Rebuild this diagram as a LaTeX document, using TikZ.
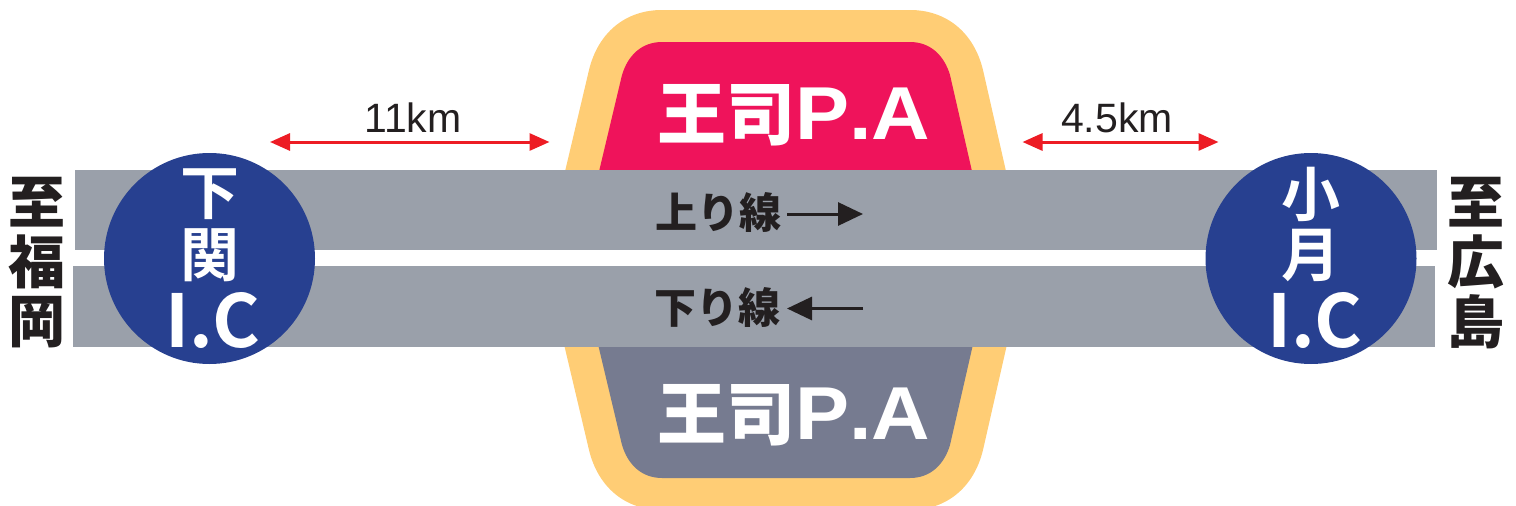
\documentclass[tikz,border=0pt]{standalone}
\usepackage{fontspec}
\setmainfont{Liberation Sans}
\newfontfamily\cjkB{Noto Sans CJK JP Bold}
\newfontfamily\cjkK{Noto Sans CJK JP Black}
\newfontfamily\paLatin[FakeStretch=1.08,Kerning=Off]{Liberation Sans Bold}
\newfontfamily\kmLatin{Liberation Sans}
\usetikzlibrary{arrows.meta}
\definecolor{halo}{HTML}{FFCD75}
\definecolor{pared}{HTML}{EF135B}
\definecolor{pagrey}{HTML}{767B90}
\definecolor{road}{HTML}{9AA0AA}
\definecolor{icblue}{HTML}{274090}
\definecolor{ink}{HTML}{231F20}
\definecolor{dist}{HTML}{ED1C24}
\tikzset{
  x=1pt,y=-1pt,
  roadbar/.style={fill=road,draw=none},
  icdisc/.style={circle,fill=icblue,draw=none,minimum size=211pt,inner sep=0pt},
  icchar/.style={text=white,inner sep=0pt,font=\cjkB\fontsize{59}{59}\selectfont,anchor=center},
  iclatin/.style={text=white,inner sep=0pt,anchor=base,font=\cjkB\fontsize{73}{73}\selectfont},
  destchar/.style={text=ink,inner sep=0pt,font=\cjkK\fontsize{57}{57}\selectfont,anchor=center},
  linechar/.style={text=ink,inner sep=0pt,font=\cjkK\fontsize{42}{42}\selectfont,anchor=center},
  palabel/.style={text=white,inner sep=0pt,anchor=base west},
  distlabel/.style={text=ink,inner sep=0pt,font=\kmLatin\fontsize{41}{41}\selectfont,anchor=base},
  distarrow/.style={draw=dist,line width=3pt,{Triangle[length=20pt,width=17pt]}-{Triangle[length=20pt,width=17pt]}},
  linearrow/.style={draw=ink,line width=3pt,-{Triangle[length=25pt,width=23pt]}},
}
\begin{document}
\begin{tikzpicture}
\useasboundingbox (0,0) rectangle (1516,506);
\clip (0,0) rectangle (1516,506);
% service area halos
\fill[halo] (563,180) -- (589,70) .. controls (598,33) and (625,10) .. (662,10) -- (910,10) .. controls (947,10) and (974,33) .. (983,70) -- (1008,180) -- cycle;
\fill[halo] (563,340) -- (589,450) .. controls (598,487) and (625,510) .. (662,510) -- (910,510) .. controls (947,510) and (974,487) .. (983,450) -- (1008,340) -- cycle;
% service areas
\fill[pared] (597,180) -- (622,75) .. controls (628,55) and (642,42) .. (662,42) -- (910,42) .. controls (930,42) and (944,55) .. (950,75) -- (974,180) -- cycle;
\fill[pagrey] (597,340) -- (622,445) .. controls (628,465) and (642,478) .. (662,478) -- (910,478) .. controls (930,478) and (944,465) .. (950,445) -- (974,340) -- cycle;
% roads
\fill[roadbar] (75,170) rectangle (1437,250);
\fill[roadbar] (73,266) rectangle (1435,347);
% interchanges
\node[icdisc] (icw) at (209.5,258.5) {};
\node[icdisc] (ice) at (1311,258.5) {};
\node[icchar] (w1) at (209.5,194.5) {下};
\node[icchar] (w2) at (209.5,255) {関};
\node[iclatin] (w3) at (213,347) {I.C};
\node[icchar] (e1) at (1311,194.5) {小};
\node[icchar] (e2) at (1311,255) {月};
\node[iclatin] (e3) at (1315,347) {I.C};
% destinations
\node[destchar] (dw1) at (37,202) {至};
\node[destchar] (dw2) at (37,262) {福};
\node[destchar] (dw3) at (37,322) {岡};
\node[destchar] (de1) at (1476,202) {至};
\node[destchar] (de2) at (1476,262) {広};
\node[destchar] (de3) at (1476,322) {島};
% PA labels
\node[palabel] (pa1) at (657,139) {{\cjkK\fontsize{69}{69}\selectfont 王司}{\paLatin\fontsize{75}{75}\selectfont P.A}};
\node[palabel] (pa2) at (657,439) {{\cjkK\fontsize{69}{69}\selectfont 王司}{\paLatin\fontsize{75}{75}\selectfont P.A}};
% direction labels
\node[linechar] (up) at (718,212) {上り線};
\node[linechar] (down) at (717,307) {下り線};
\coordinate (ups) at (787,214);
\coordinate (upe) at (863,214);
\coordinate (dne) at (787,308.5);
\coordinate (dns) at (863,308.5);
\draw[linearrow] (ups) -- (upe);
\draw[linearrow] (dns) -- (dne);
% distances
\coordinate (a1) at (270,142);
\coordinate (a2) at (549.5,142);
\coordinate (b1) at (1022.5,142);
\coordinate (b2) at (1218.5,142);
\draw[distarrow] (a1) -- (a2);
\draw[distarrow] (b1) -- (b2);
\node[distlabel] (d1) at (413,132) {11km};
\node[distlabel] (d2) at (1117,132) {4.5km};
\end{tikzpicture}
\end{document}
